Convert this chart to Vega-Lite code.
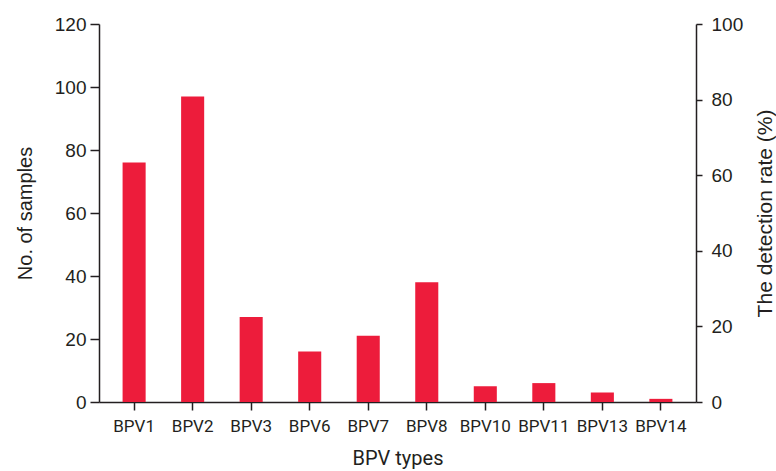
{
  "$schema": "https://vega.github.io/schema/vega-lite/v6.json",
  "width": 597,
  "height": 378,
  "autosize": {"type": "none"},
  "padding": {"left": 99, "top": 24, "right": 80, "bottom": 69},
  "background": "white",
  "config": {
    "view": {"stroke": null},
    "axis": {
      "grid": false,
      "domainColor": "#231F20",
      "tickColor": "#231F20",
      "labelColor": "#231F20",
      "titleColor": "#231F20",
      "domainWidth": 1.5,
      "tickWidth": 1.5,
      "titleFontWeight": "normal"
    }
  },
  "data": {
    "values": [
      {"type": "BPV1", "samples": 76},
      {"type": "BPV2", "samples": 97},
      {"type": "BPV3", "samples": 27},
      {"type": "BPV6", "samples": 16},
      {"type": "BPV7", "samples": 21},
      {"type": "BPV8", "samples": 38},
      {"type": "BPV10", "samples": 5},
      {"type": "BPV11", "samples": 6},
      {"type": "BPV13", "samples": 3},
      {"type": "BPV14", "samples": 1}
    ]
  },
  "layer": [
    {
      "mark": {"type": "bar", "color": "#ED1C3B"},
      "encoding": {
        "x": {
          "field": "type",
          "type": "nominal",
          "sort": null,
          "scale": {"paddingInner": 0.606, "paddingOuter": 0.403},
          "axis": {
            "title": "BPV types",
            "labelAngle": 0,
            "labelFont": "Roboto",
            "labelFontSize": 17,
            "titleFont": "Roboto",
            "titleFontSize": 20,
            "tickSize": 8,
            "labelPadding": 8,
            "titlePadding": 14
          }
        },
        "y": {
          "field": "samples",
          "type": "quantitative",
          "scale": {"domain": [0, 120], "nice": false},
          "axis": {
            "title": "No. of samples",
            "values": [0, 20, 40, 60, 80, 100, 120],
            "labelFont": "Liberation Sans",
            "labelFontSize": 19,
            "titleFont": "Liberation Sans",
            "titleFontSize": 20,
            "tickSize": 9,
            "labelPadding": 4,
            "titlePadding": 19
          }
        }
      }
    },
    {
      "mark": {"type": "rule", "opacity": 0},
      "encoding": {
        "y": {
          "datum": 0,
          "type": "quantitative",
          "scale": {"domain": [0, 100], "nice": false},
          "axis": {
            "orient": "right",
            "title": "The detection rate (%)",
            "titleAngle": 270,
            "titleBaseline": "top",
            "values": [0, 20, 40, 60, 80, 100],
            "labelFont": "Liberation Sans",
            "labelFontSize": 19,
            "titleFont": "Liberation Sans",
            "titleFontSize": 21,
            "tickSize": 6,
            "labelPadding": 9,
            "titlePadding": 12
          }
        }
      }
    }
  ],
  "resolve": {"scale": {"y": "independent"}, "axis": {"y": "independent"}}
}
